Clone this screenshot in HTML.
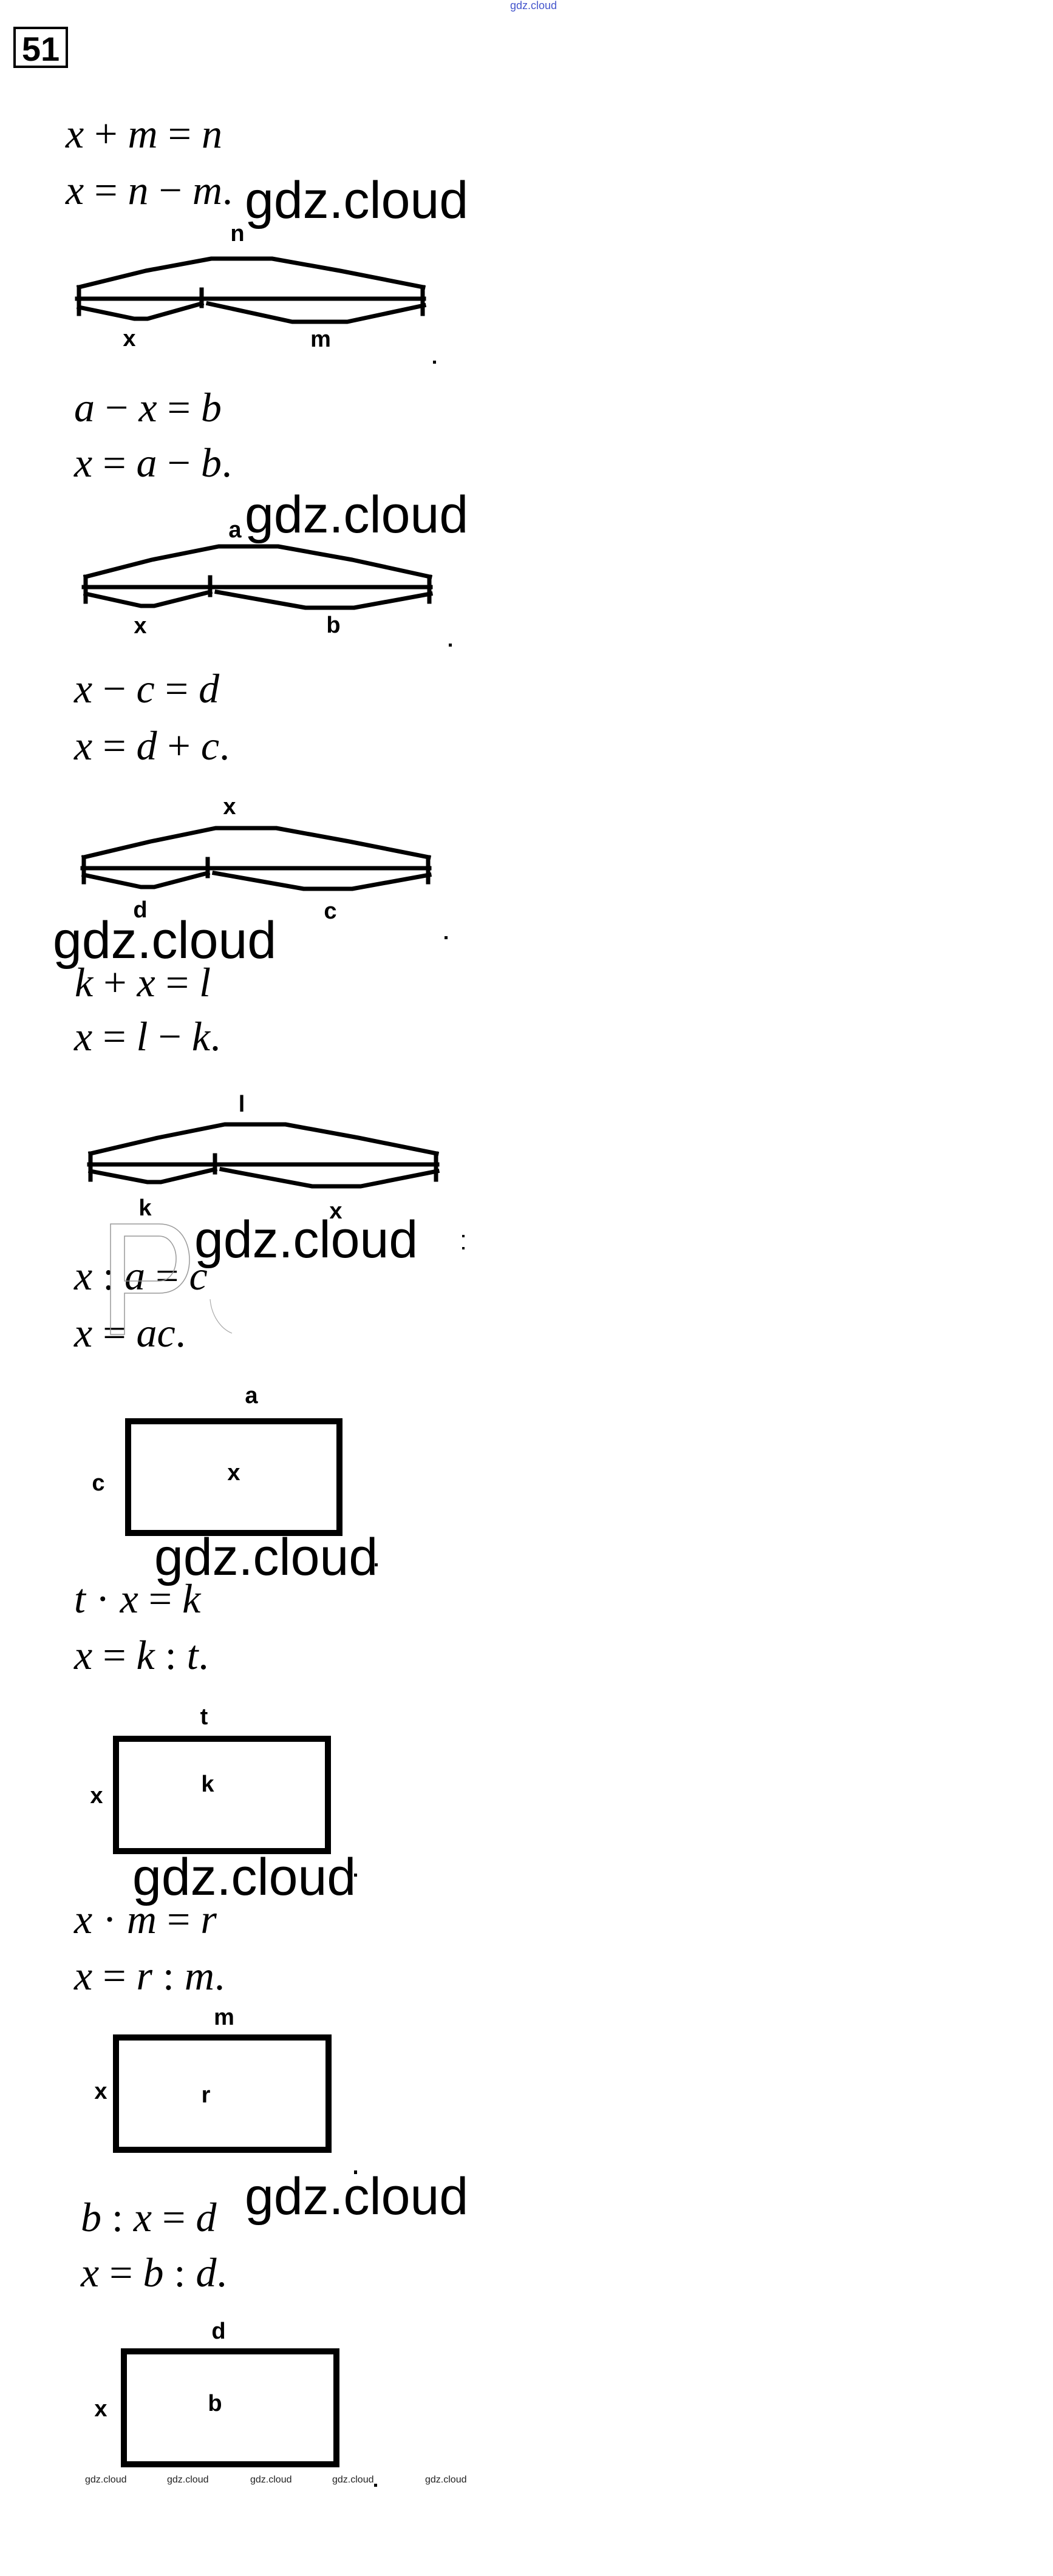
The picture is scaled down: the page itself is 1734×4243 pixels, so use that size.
<!DOCTYPE html>
<html><head><meta charset="utf-8"><style>
html,body{margin:0;padding:0;background:#fff;}
svg{display:block;}
.eq{font-family:"Liberation Serif",serif;font-size:68px;fill:#000;}
.i{font-style:italic;}
.lb{font-family:"Liberation Sans",sans-serif;font-weight:bold;font-size:38px;fill:#000;}
.wm{font-family:"Liberation Sans",sans-serif;font-size:86px;fill:#000;}
.sm{font-family:"Liberation Sans",sans-serif;font-size:16px;fill:#222;}
.ln{fill:none;stroke:#000;stroke-width:7;stroke-linejoin:round;stroke-linecap:square;}
</style></head><body>
<svg width="1734" height="4243" viewBox="0 0 1734 4243" xmlns="http://www.w3.org/2000/svg">
<rect width="1734" height="4243" fill="#fff"/>
<text x="840" y="15" font-family="Liberation Sans, sans-serif" font-size="18" fill="#4455cc">gdz.cloud</text>
<rect x="24" y="46" width="86" height="64" fill="none" stroke="#000" stroke-width="4"/>
<text x="67" y="100" text-anchor="middle" font-family="Liberation Sans, sans-serif" font-weight="bold" font-size="56">51</text>

<!-- equations -->
<text class="eq" x="108" y="243" xml:space="preserve"><tspan class="i">x</tspan> + <tspan class="i">m</tspan> = <tspan class="i">n</tspan></text>
<text class="eq" x="108" y="336" xml:space="preserve"><tspan class="i">x</tspan> = <tspan class="i">n</tspan> − <tspan class="i">m</tspan>.</text>
<text class="eq" x="122" y="694" xml:space="preserve"><tspan class="i">a</tspan> − <tspan class="i">x</tspan> = <tspan class="i">b</tspan></text>
<text class="eq" x="122" y="785" xml:space="preserve"><tspan class="i">x</tspan> = <tspan class="i">a</tspan> − <tspan class="i">b</tspan>.</text>
<text class="eq" x="122" y="1157" xml:space="preserve"><tspan class="i">x</tspan> − <tspan class="i">c</tspan> = <tspan class="i">d</tspan></text>
<text class="eq" x="122" y="1251" xml:space="preserve"><tspan class="i">x</tspan> = <tspan class="i">d</tspan> + <tspan class="i">c</tspan>.</text>
<text class="eq" x="123" y="1641" xml:space="preserve"><tspan class="i">k</tspan> + <tspan class="i">x</tspan> = <tspan class="i">l</tspan></text>
<text class="eq" x="122" y="1730" xml:space="preserve"><tspan class="i">x</tspan> = <tspan class="i">l</tspan> − <tspan class="i">k</tspan>.</text>
<text class="eq" x="122" y="2124" xml:space="preserve"><tspan class="i">x</tspan> : <tspan class="i">a</tspan> = <tspan class="i">c</tspan></text>
<text class="eq" x="122" y="2218" xml:space="preserve"><tspan class="i">x</tspan> = <tspan class="i">ac</tspan>.</text>
<text class="eq" x="122" y="2656" xml:space="preserve"><tspan class="i">t</tspan> · <tspan class="i">x</tspan> = <tspan class="i">k</tspan></text>
<text class="eq" x="122" y="2749" xml:space="preserve"><tspan class="i">x</tspan> = <tspan class="i">k</tspan> : <tspan class="i">t</tspan>.</text>
<text class="eq" x="122" y="3184" xml:space="preserve"><tspan class="i">x</tspan> · <tspan class="i">m</tspan> = <tspan class="i">r</tspan></text>
<text class="eq" x="122" y="3277" xml:space="preserve"><tspan class="i">x</tspan> = <tspan class="i">r</tspan> : <tspan class="i">m</tspan>.</text>
<text class="eq" x="133" y="3675" xml:space="preserve"><tspan class="i">b</tspan> : <tspan class="i">x</tspan> = <tspan class="i">d</tspan></text>
<text class="eq" x="133" y="3766" xml:space="preserve"><tspan class="i">x</tspan> = <tspan class="i">b</tspan> : <tspan class="i">d</tspan>.</text>

<!-- diagram 1 -->
<polyline class="ln" points="130,473 240,446 348,426 448,426 560,446 697,473"/>
<line class="ln" x1="127" y1="492" x2="698" y2="492"/>
<line class="ln" x1="332" y1="477" x2="332" y2="504"/>
<line class="ln" x1="130" y1="473" x2="130" y2="517"/>
<line class="ln" x1="696" y1="473" x2="696" y2="517"/>
<polyline class="ln" points="130,506 221,525 243,525 332,500"/>
<polyline class="ln" points="343,500 481,530 572,530 698,503"/>
<text class="lb" x="391" y="397" text-anchor="middle">n</text>
<text class="lb" x="213" y="570" text-anchor="middle">x</text>
<text class="lb" x="528" y="571" text-anchor="middle">m</text>
<rect x="713" y="594" width="5" height="5"/>

<!-- diagram 2 -->
<polyline class="ln" points="141,950 250,922 360,900 458,900 580,922 708,950"/>
<line class="ln" x1="138" y1="967" x2="709" y2="967"/>
<line class="ln" x1="346" y1="951" x2="346" y2="980"/>
<line class="ln" x1="141" y1="950" x2="141" y2="991"/>
<line class="ln" x1="707" y1="950" x2="707" y2="991"/>
<polyline class="ln" points="141,978 232,998 254,998 346,975"/>
<polyline class="ln" points="357,975 503,1001 583,1001 709,978"/>
<text class="lb" x="387" y="885" text-anchor="middle">a</text>
<text class="lb" x="231" y="1043" text-anchor="middle">x</text>
<text class="lb" x="549" y="1042" text-anchor="middle">b</text>
<rect x="739" y="1060" width="5" height="5"/>

<!-- diagram 3 -->
<polyline class="ln" points="138,1412 248,1386 355,1364 455,1364 575,1386 706,1412"/>
<line class="ln" x1="136" y1="1430" x2="707" y2="1430"/>
<line class="ln" x1="342" y1="1415" x2="342" y2="1443"/>
<line class="ln" x1="138" y1="1412" x2="138" y2="1453"/>
<line class="ln" x1="705" y1="1412" x2="705" y2="1453"/>
<polyline class="ln" points="138,1441 232,1461 254,1461 342,1438"/>
<polyline class="ln" points="353,1438 500,1464 580,1464 707,1441"/>
<text class="lb" x="378" y="1341" text-anchor="middle">x</text>
<text class="lb" x="231" y="1511" text-anchor="middle">d</text>
<text class="lb" x="544" y="1513" text-anchor="middle">c</text>
<rect x="732" y="1542" width="5" height="5"/>

<!-- diagram 4 -->
<polyline class="ln" points="149,1900 260,1874 370,1852 470,1852 590,1874 719,1900"/>
<line class="ln" x1="147" y1="1918" x2="720" y2="1918"/>
<line class="ln" x1="354" y1="1903" x2="354" y2="1931"/>
<line class="ln" x1="149" y1="1900" x2="149" y2="1943"/>
<line class="ln" x1="718" y1="1900" x2="718" y2="1943"/>
<polyline class="ln" points="149,1929 243,1947 265,1947 354,1926"/>
<polyline class="ln" points="365,1926 514,1954 594,1954 720,1929"/>
<text class="lb" x="398" y="1831" text-anchor="middle">l</text>
<text class="lb" x="239" y="2002" text-anchor="middle">k</text>
<text class="lb" x="553" y="2007" text-anchor="middle">x</text>
<rect x="761" y="2034" width="4" height="4"/><rect x="761" y="2054" width="4" height="4"/>

<!-- P logo -->
<path d="M182,2198 V2016 H262 C300,2016 312,2050 312,2075 C312,2105 295,2130 262,2130 H205 V2198 Z M205,2036 V2110 H262 C282,2110 290,2090 290,2073 C290,2055 280,2036 262,2036 Z" fill="none" stroke="#999" stroke-width="1.5"/>
<path d="M346,2140 C348,2165 362,2188 382,2196" fill="none" stroke="#aaa" stroke-width="1.2"/>

<!-- rect 1 -->
<rect x="211" y="2341" width="348" height="184" fill="none" stroke="#000" stroke-width="10"/>
<text class="lb" x="414" y="2311" text-anchor="middle">a</text>
<text class="lb" x="162" y="2455" text-anchor="middle">c</text>
<text class="lb" x="385" y="2438" text-anchor="middle">x</text>
<rect x="617" y="2575" width="5" height="5"/>

<!-- rect 2 -->
<rect x="191" y="2864" width="349" height="185" fill="none" stroke="#000" stroke-width="10"/>
<text class="lb" x="336" y="2840" text-anchor="middle">t</text>
<text class="lb" x="159" y="2970" text-anchor="middle">x</text>
<text class="lb" x="342" y="2951" text-anchor="middle">k</text>
<rect x="583" y="3086" width="5" height="5"/>

<!-- rect 3 -->
<rect x="191" y="3356" width="350" height="185" fill="none" stroke="#000" stroke-width="10"/>
<text class="lb" x="369" y="3335" text-anchor="middle">m</text>
<text class="lb" x="166" y="3457" text-anchor="middle">x</text>
<text class="lb" x="339" y="3463" text-anchor="middle">r</text>
<rect x="583" y="3575" width="5" height="6"/>

<!-- rect 4 -->
<rect x="204" y="3873" width="350" height="186" fill="none" stroke="#000" stroke-width="10"/>
<text class="lb" x="360" y="3852" text-anchor="middle">d</text>
<text class="lb" x="166" y="3980" text-anchor="middle">x</text>
<text class="lb" x="354" y="3971" text-anchor="middle">b</text>
<rect x="616" y="4091" width="5" height="5"/>

<!-- big watermarks -->
<text class="wm" x="403" y="359">gdz.cloud</text>
<text class="wm" x="403" y="877">gdz.cloud</text>
<text class="wm" x="87" y="1578">gdz.cloud</text>
<text class="wm" x="320" y="2071">gdz.cloud</text>
<text class="wm" x="254" y="2594">gdz.cloud</text>
<text class="wm" x="218" y="3121">gdz.cloud</text>
<text class="wm" x="403" y="3647">gdz.cloud</text>

<!-- small bottom watermarks -->
<text class="sm" x="140" y="4089">gdz.cloud</text>
<text class="sm" x="275" y="4089">gdz.cloud</text>
<text class="sm" x="412" y="4089">gdz.cloud</text>
<text class="sm" x="547" y="4089">gdz.cloud</text>
<text class="sm" x="700" y="4089">gdz.cloud</text>
</svg>
</body></html>
